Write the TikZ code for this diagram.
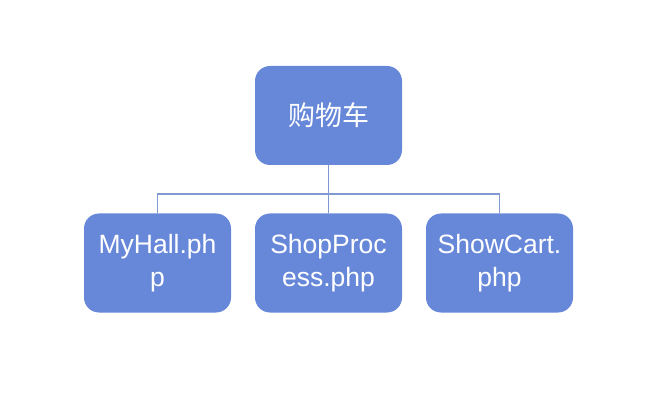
\documentclass[tikz,border=0pt]{standalone}
\usepackage{fontspec}
\setmainfont{Liberation Sans}
\newfontfamily\cjk{Noto Sans CJK SC}
\definecolor{boxfill}{HTML}{6788D9}
\definecolor{linkcol}{HTML}{7F9AD3}
\begin{document}
\begin{tikzpicture}[x=1pt,y=1pt,
  box/.style={draw=none,fill=boxfill,rounded corners=15pt,minimum width=147pt,minimum height=99pt,text=white,align=center,font=\fontsize{26.5}{33}\selectfont,inner sep=0pt},
  link/.style={draw=linkcol,line width=1.3pt}]
\useasboundingbox (0,0) rectangle (671,407);
\fill[white] (0,0) rectangle (671,407);
\node[box,font=\cjk\fontsize{27}{32}\selectfont] (root) at (328.5,291.5) {购物车};
\node[box] (a) at (157.5,144) {MyHall.ph\\p};
\node[box] (b) at (328.5,144) {ShopProc\\ess.php};
\node[box] (c) at (499.5,144) {ShowCart.\\php};
\coordinate (j) at (328.5,213);
\draw[link] (root.south) -- (j);
\draw[link] (a.north) |- (j) -| (c.north);
\draw[link] (j) -- (b.north);
\end{tikzpicture}
\end{document}
